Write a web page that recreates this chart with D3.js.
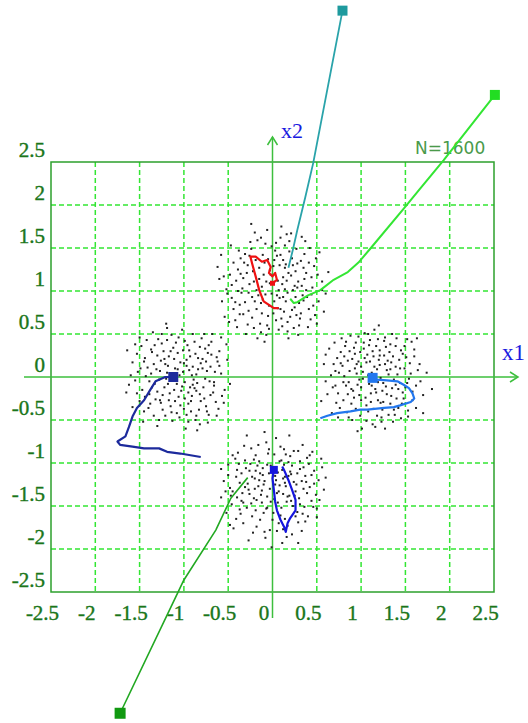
<!DOCTYPE html>
<html lang="en">
<head>
  <meta charset="utf-8">
  <title>Clusters N=1600</title>
  <script src="https://d3js.org/d3.v7.min.js"></script>
  <style>
    body { margin: 0; background: #fff; }
  </style>
</head>
<body>
<script>
// grid / tick values
var tickValues = [-2.5, -2, -1.5, -1, -0.5, 0, 0.5, 1, 1.5, 2, 2.5];
var nLabel = "N=1600";

// sample points (a subset of the 1600)
var clusterTop = [[-0.12,1.05],[0.08,0.92],[0.21,1.18],[-0.31,0.87],[0.05,1.41],[-0.22,1.23],[0.34,0.95],[-0.05,0.71],[0.17,0.64],[-0.41,1.12],[0.28,1.32],[-0.08,1.55],[0.11,1.08],[-0.18,0.79],[0.45,1.04],[-0.36,1.38],[0.02,0.88],[0.25,0.81],[-0.27,0.98],[0.14,1.27],[-0.02,1.19],[0.38,1.21],[-0.46,0.92],[0.07,0.55],[-0.14,0.62],[0.31,0.68],[-0.09,1.33],[0.19,1.46],[-0.24,1.49],[0.52,0.88],[-0.52,1.02],[0.09,1.62],[-0.16,0.95],[0.23,1.01],[-0.33,0.73],[0.41,0.79],[-0.04,0.83],[0.13,0.76],[-0.21,1.11],[0.29,1.11],[-0.11,1.42],[0.36,1.43],[-0.39,1.25],[0.01,1.29],[0.17,0.98],[-0.28,0.61],[0.47,1.29],[-0.07,0.49],[0.24,0.57],[-0.44,0.79],[0.06,1.12],[-0.19,1.36],[0.33,1.06],[-0.01,0.97],[0.12,1.36],[-0.26,1.08],[0.43,0.67],[-0.35,0.98],[0.18,1.21],[-0.13,0.86],[0.04,0.66],[0.27,1.49],[-0.48,1.19],[0.56,1.11],[-0.06,1.71],[0.15,0.88],[-0.23,0.69],[0.39,0.93],[-0.17,1.59],[0.22,1.38],[-0.38,1.47],[0.09,0.79],[-0.29,1.21],[0.32,0.74],[-0.03,1.09],[0.49,1.38],[-0.57,0.88],[0.14,1.53],[-0.1,1.19],[0.26,0.93],[-0.42,0.66],[0.03,1.47],[0.2,0.7],[-0.15,1.27],[0.35,1.27],[-0.32,1.33],[0.11,0.59],[-0.2,0.88],[0.44,0.96],[-0.05,1.37],[0.3,0.86],[-0.25,1.57],[0.16,1.12],[-0.37,0.84],[0.06,0.8],[0.58,0.76],[-0.6,1.14],[0.1,1.75],[-0.13,0.52],[0.37,1.58],
  [-0.47,1.53],[0.51,1.19],[-0.3,0.5],[0.21,1.67],[-0.54,0.7],[0.4,0.58],[-0.09,0.41],[0.18,0.45],[-0.2,1.68],[0.33,1.63],[0.6,0.97],[-0.62,1.28],[0.07,1.01],[-0.34,1.03],[0.26,1.23],[-0.15,1.14],[0.12,0.93],[-0.06,0.6],[0.46,0.83],[-0.4,0.58],[0.29,0.49],[-0.26,1.41],[0.04,1.56],[0.15,1.31],[-0.44,1.33],[0.53,1.45],[-0.12,0.74],[0.22,0.78],[-0.51,0.97],[0.36,1.14],[-0.03,1.24],[0.09,1.42],[-0.23,0.93],[0.41,1.33],[-0.33,1.15],[0.17,0.53],[-0.17,0.45],[0.63,1.22],[-0.58,1.42],[0.01,0.74],[0.25,1.06],[-0.08,0.96],[0.32,1.35],[-0.37,0.73],[0.12,1.16],[-0.28,1.3],[0.48,0.72],[-0.46,1.07],[0.05,0.95],[0.19,1.58],[-0.13,1.62],[0.38,1.01],[-0.21,0.57],[0.27,0.72],[-0.55,1.17],[0.1,0.68],[-0.01,1.52],[0.44,1.16],[-0.31,1.43],[0.14,1.02],[-0.18,1.01],[0.3,0.6],[-0.42,0.87],[0.56,1.01],[-0.04,0.56],[0.23,1.3],[-0.36,1.2],[0.08,1.3],[-0.11,0.9],[0.35,0.89],[-0.27,0.77],[0.02,1.36],[0.5,0.62],[-0.49,0.64],[0.16,1.66],[-0.24,1.78],[0.42,1.5],[-0.07,1.11],[0.28,1.04],[-0.39,1.0]];
var clusterLeft = [[-1.05,0.02],[-0.88,-0.13],[-1.21,0.15],[-0.79,0.21],[-1.33,-0.08],[-0.95,-0.31],[-1.12,0.34],[-0.71,-0.05],[-1.27,-0.27],[-0.84,0.09],[-1.41,0.11],[-0.99,0.42],[-1.16,-0.19],[-0.62,0.18],[-1.36,0.29],[-0.91,-0.22],[-1.08,-0.42],[-0.75,-0.34],[-1.47,-0.15],[-0.82,0.35],[-1.19,0.05],[-0.97,0.13],[-1.29,0.44],[-0.67,-0.18],[-1.52,0.06],[-0.86,-0.45],[-1.02,-0.11],[-1.24,-0.38],[-0.73,0.28],[-1.38,-0.31],[-0.93,0.24],[-1.14,0.49],[-0.58,0.04],[-1.44,0.22],[-0.89,-0.03],[-1.1,-0.28],[-0.77,-0.25],[-1.31,0.09],[-1.01,0.31],[-0.69,0.41],[-1.22,-0.12],[-0.95,-0.52],[-1.55,-0.04],[-0.81,0.16],[-1.17,0.24],[-0.64,-0.29],[-1.34,-0.45],[-0.9,0.5],[-1.06,-0.23],[-0.74,0.07],[-1.48,0.36],[-0.86,-0.16],[-1.26,0.19],[-0.99,-0.06],[-1.13,-0.51],[-0.6,0.3],[-1.39,-0.2],[-0.83,-0.38],[-1.04,0.17],[-1.2,-0.02],[-0.72,-0.44],[-1.58,0.17],[-0.94,0.08],[-1.09,0.4],[-0.66,-0.1],[-1.3,-0.17],[-0.87,0.27],[-1.15,-0.34],[-0.78,-0.12],[-1.43,0.01],[-0.96,0.37],[-1.23,0.3],[-0.54,-0.15],[-1.35,0.52],[-0.92,-0.28],[-1.07,0.09],[-0.8,0.45],[-1.5,-0.28],[-0.7,0.12],[-1.18,-0.08],[-1.0,-0.37],[-0.85,-0.07],[-1.28,-0.5],[-0.63,0.23],[-1.11,0.21],[-1.45,-0.4],[-0.76,0.33],[-1.03,-0.16],[-1.25,0.39],[-0.91,0.02],[-1.62,-0.09],[-0.57,-0.22],[-1.19,0.57],[-0.98,-0.6],[-1.37,0.04],[-0.82,-0.55],[-1.53,0.27],[-0.68,0.5],
  [-1.64,0.31],[-0.52,0.38],[-1.2,0.62],[-0.85,-0.62],[-1.46,-0.52],[-0.48,-0.08],[-1.1,0.1],[-0.93,-0.12],[-1.27,0.07],[-0.76,-0.02],[-1.33,0.37],[-0.61,-0.37],[-1.05,-0.47],[-1.42,0.43],[-0.88,0.41],[-1.17,-0.27],[-0.69,0.26],[-1.53,-0.19],[-0.97,0.2],[-1.24,-0.21],[-0.81,-0.28],[-1.36,-0.12],[-0.58,0.46],[-1.13,0.03],[-0.9,0.12],[-1.49,0.1],[-0.73,-0.53],[-1.3,0.25],[-1.02,0.55],[-0.65,0.06],[-1.21,-0.45],[-0.95,-0.18],[-1.58,-0.35],[-0.84,0.22],[-1.08,-0.08],[-1.39,-0.05],[-0.77,0.5],[-1.15,0.3],[-0.55,-0.3],[-1.45,0.18],[-0.92,-0.4],[-1.26,-0.3],[-0.7,-0.21],[-1.01,0.06],[-1.34,0.15],[-0.86,0.03],[-1.6,0.02],[-0.63,-0.45],[-1.19,0.43],[-0.99,-0.25],[-1.4,-0.36],[-0.79,0.1],[-1.07,0.28],[-1.28,-0.03],[-0.6,0.13],[-1.5,0.46],[-0.94,0.31],[-1.14,-0.41],[-0.72,0.37],[-1.32,-0.26],[-0.87,-0.5],[-1.22,0.21],[-1.0,0.16],[-0.66,-0.06],[-1.44,-0.23],[-0.82,-0.2],[-1.11,-0.15],[-1.37,0.32],[-0.75,0.18],[-1.04,-0.33],[-1.25,0.5],[-0.51,0.2],[-1.55,0.38],[-0.9,-0.09],[-1.18,0.13],[-0.97,-0.44],[-1.65,-0.18],[-0.74,-0.4],[-1.06,0.46],[-1.3,-0.57]];
var clusterRight = [[1.12,0.05],[1.28,-0.11],[0.97,0.18],[1.39,0.12],[1.05,-0.24],[1.21,0.31],[0.86,-0.06],[1.47,-0.18],[1.14,-0.37],[0.93,0.27],[1.33,0.38],[1.02,-0.02],[1.56,0.04],[0.79,0.13],[1.25,-0.29],[1.1,0.43],[0.89,-0.31],[1.42,-0.36],[1.18,0.09],[0.74,-0.19],[1.51,0.23],[0.99,-0.45],[1.3,0.19],[1.07,0.26],[0.82,0.36],[1.62,-0.1],[1.16,-0.14],[0.95,0.04],[1.37,-0.03],[1.23,-0.47],[0.71,0.07],[1.45,0.31],[1.04,0.51],[0.91,-0.16],[1.34,-0.22],[1.2,0.2],[0.84,-0.41],[1.58,-0.27],[1.09,-0.08],[0.77,0.29],[1.27,0.46],[1.0,0.12],[1.49,0.1],[0.68,-0.12],[1.13,-0.55],[1.38,-0.44],[0.94,0.4],[1.22,-0.01],[0.87,0.07],[1.66,0.15],[1.06,-0.33],[1.31,0.03],[0.8,-0.27],[1.44,-0.07],[1.17,0.36],[0.98,-0.21],[1.53,-0.39],[1.26,0.25],[0.73,0.22],[1.11,-0.19],[1.4,0.45],[0.9,-0.5],[1.19,-0.27],[0.66,0.02],[1.6,0.32],[1.03,0.33],[1.35,-0.13],[0.85,0.19],[1.24,-0.38],[1.08,0.02],[0.96,-0.09],[1.48,-0.25],[1.15,0.55],[0.76,-0.36],[1.29,0.08],[1.01,-0.6],[1.43,0.2],[0.6,-0.05],[1.21,0.14],[0.88,0.48],[1.36,-0.52],[1.7,-0.21],[1.14,0.24],[0.92,-0.24],[1.32,0.29],[0.7,0.4],[1.54,-0.02],[1.06,0.17],[1.25,-0.07],[0.83,-0.1],[1.45,-0.48],[1.18,-0.45],[0.58,0.15],[1.64,0.08],[0.99,0.29],[1.39,0.36],[1.27,-0.6],[0.81,0.01],[1.09,0.37],[1.52,0.44],[1.7,-0.42],
  [1.74,0.05],[0.55,-0.28],[1.2,0.6],[0.96,-0.63],[1.57,0.41],[0.64,0.33],[1.33,-0.31],[1.0,-0.12],[1.41,0.03],[0.85,-0.2],[1.27,0.15],[1.11,-0.29],[0.78,0.45],[1.5,-0.12],[0.93,0.1],[1.19,-0.06],[1.36,0.24],[0.72,-0.3],[1.62,-0.36],[1.04,0.22],[1.23,-0.52],[0.87,0.3],[1.46,-0.31],[1.15,0.12],[0.69,0.15],[1.31,-0.44],[0.97,0.47],[1.55,0.16],[1.08,-0.4],[0.8,-0.06],[1.28,0.35],[1.42,-0.14],[0.9,0.21],[1.17,-0.18],[0.62,-0.2],[1.67,-0.05],[1.02,0.06],[1.35,0.5],[0.83,0.41],[1.24,-0.16],[1.49,0.36],[0.94,-0.37],[1.13,0.3],[0.75,0.05],[1.4,-0.25],[1.06,-0.51],[1.6,0.24],[0.89,-0.14],[1.21,0.25],[1.33,0.09],[0.67,-0.42],[1.52,-0.07],[1.1,0.18],[0.98,-0.03],[1.26,0.42],[0.81,0.24],[1.44,0.1],[1.16,-0.58],[0.71,-0.1],[1.37,-0.38],[1.03,0.4],[1.58,-0.17],[0.92,0.34],[1.29,-0.2],[1.12,-0.1],[0.86,-0.47],[1.47,0.27],[0.77,0.16],[1.19,0.44],[1.39,-0.09],[1.0,-0.27],[1.63,0.45],[0.6,0.26],[1.22,-0.3],[0.95,0.15],[1.34,0.17],[1.08,0.5],[1.53,-0.46],[0.74,-0.47],[1.8,-0.14]];
var clusterBottom = [[0.03,-1.25],[-0.14,-1.12],[0.19,-1.38],[-0.27,-1.31],[0.08,-0.98],[-0.06,-1.52],[0.31,-1.07],[-0.35,-1.44],[0.14,-1.65],[-0.19,-0.91],[0.42,-1.28],[-0.09,-1.21],[0.24,-0.86],[-0.41,-1.16],[0.05,-1.79],[-0.23,-1.62],[0.36,-1.51],[-0.02,-1.03],[0.12,-1.18],[-0.31,-0.97],[0.47,-1.09],[-0.13,-1.37],[0.21,-1.13],[-0.45,-1.33],[0.09,-0.81],[-0.18,-1.74],[0.29,-1.69],[-0.05,-0.89],[0.16,-1.45],[-0.37,-1.23],[0.39,-0.94],[-0.1,-1.58],[0.02,-1.42],[-0.26,-1.09],[0.33,-1.21],[-0.5,-1.02],[0.11,-1.93],[-0.16,-1.27],[0.26,-1.33],[-0.29,-1.52],[0.06,-1.11],[0.44,-1.44],[-0.07,-0.76],[0.18,-0.99],[-0.39,-0.88],[0.52,-1.2],[-0.21,-1.41],[0.0,-1.66],[0.28,-1.57],[-0.33,-1.7],[0.13,-1.02],[-0.11,-1.14],[0.37,-1.15],[-0.46,-1.48],[0.07,-1.33],[-0.24,-0.83],[0.22,-1.83],[-0.03,-1.3],[0.34,-0.79],[-0.17,-1.03],[0.49,-1.37],[-0.55,-1.21],[0.1,-1.52],[-0.08,-1.87],[0.27,-1.25],[-0.34,-1.35],[0.15,-0.9],[-0.2,-1.18],[0.4,-1.62],[-0.42,-0.95],[0.04,-0.71],[-0.12,-1.46],[0.3,-1.41],[-0.28,-1.24],[0.2,-1.1],[-0.01,-1.98],[0.45,-0.87],[-0.36,-1.59],[0.08,-1.26],[-0.15,-0.98],[0.56,-1.05],[-0.48,-1.29],[0.17,-1.73],[-0.25,-1.01],[0.35,-1.3],[-0.04,-1.12],[0.23,-1.5],[-0.32,-0.8],[0.12,-1.36],[-0.19,-1.55],[0.41,-1.01],[-0.09,-0.64],[0.01,-1.58],[-0.58,-1.4],[0.29,-1.93],[-0.22,-1.81],[0.5,-1.53],[-0.4,-1.08],[0.14,-1.16],[-0.06,-1.39],
  [-0.52,-1.58],[0.58,-1.31],[0.19,-0.68],[-0.29,-0.68],[0.33,-1.79],[-0.44,-1.76],[0.06,-1.46],[-0.14,-1.66],[0.24,-1.22],[-0.06,-1.02],[0.15,-1.27],[-0.35,-1.12],[0.44,-1.14],[-0.2,-1.3],[0.09,-1.61],[0.31,-0.98],[-0.24,-1.47],[0.02,-0.9],[-0.47,-1.38],[0.37,-1.68],[-0.1,-1.25],[0.21,-1.44],[-0.38,-1.01],[0.53,-1.43],[-0.03,-1.78],[0.13,-0.84],[-0.27,-1.9],[0.28,-1.12],[-0.16,-0.79],[0.47,-1.24],[-0.07,-1.53],[0.17,-1.39],[-0.31,-1.28],[0.04,-1.2],[0.39,-1.35],[-0.5,-1.14],[0.11,-1.08],[-0.19,-1.09],[0.26,-1.62],[-0.41,-1.65],[0.0,-1.07],[0.35,-1.05],[-0.12,-1.32],[0.2,-0.92],[-0.33,-1.46],[0.6,-1.17],[-0.58,-1.07],[0.07,-1.7],[-0.23,-1.16],[0.42,-0.91],[-0.02,-1.45],[0.16,-1.86],[-0.37,-1.54],[0.31,-1.48],[-0.15,-1.2],[0.1,-0.97],[-0.45,-0.91],[0.25,-1.38],[-0.09,-1.8],[0.5,-1.63],[-0.26,-1.36],[0.14,-1.23],[-0.04,-0.84],[0.38,-1.22],[-0.53,-1.33],[0.05,-1.35],[-0.18,-1.43],[0.29,-0.86],[-0.3,-1.06],[0.46,-1.51],[0.12,-1.77],[-0.21,-0.96],[0.22,-1.03],[-0.4,-1.4],[0.03,-1.15],[0.34,-1.59],[-0.11,-1.06],[0.55,-0.95],[-0.48,-1.72],[0.18,-1.15]];

// trajectories of the four centres (first point = start marker)
var pathCyan = [[0.79,4.26],[0.62,3.35],[0.46,2.49],[0.37,2.09],[0.28,1.71],[0.23,1.48],[0.18,1.27]];
var pathGreenTop = [[2.51,3.28],[1.93,2.52],[1.65,2.17],[1.50,1.98],[1.11,1.50],[0.97,1.33],[0.85,1.22],[0.69,1.13],[0.54,1.01],[0.40,0.95],[0.28,0.87],[0.24,0.86],[0.20,0.91]];
var pathGreenBottom = [[-1.72,-3.91],[-1.07,-2.51],[-1.00,-2.36],[-0.64,-1.78],[-0.47,-1.41],[-0.28,-1.17]];
var pathRed = [[0.07,0.80],[0.015,0.80],[-0.10,0.88],[-0.15,1.01],[-0.19,1.17],[-0.23,1.32],[-0.25,1.40],[-0.19,1.40],[-0.12,1.34],[-0.06,1.36],[-0.02,1.28],[-0.04,1.21],[0.00,1.17],[0.03,1.21],[0.05,1.13],[0.00,1.09]];
var pathNavy = [[-0.81,-0.93],[-1.04,-0.89],[-1.19,-0.87],[-1.28,-0.83],[-1.45,-0.83],[-1.58,-0.81],[-1.72,-0.79],[-1.75,-0.75],[-1.66,-0.69],[-1.62,-0.58],[-1.58,-0.46],[-1.53,-0.36],[-1.45,-0.27],[-1.38,-0.15],[-1.32,-0.05],[-1.21,0.00],[-1.12,0.0]];
var pathLightBlue = [[0.54,-0.48],[0.62,-0.45],[0.73,-0.42],[0.88,-0.40],[0.99,-0.38],[1.07,-0.38],[1.26,-0.36],[1.37,-0.35],[1.44,-0.33],[1.56,-0.29],[1.60,-0.25],[1.58,-0.19],[1.54,-0.13],[1.48,-0.09],[1.41,-0.05],[1.29,-0.04],[1.18,-0.03],[1.13,-0.01]];
var pathBlue = [[0.11,-1.04],[0.13,-1.08],[0.18,-1.20],[0.22,-1.31],[0.26,-1.43],[0.26,-1.55],[0.20,-1.64],[0.17,-1.70],[0.15,-1.80],[0.13,-1.74],[0.09,-1.66],[0.05,-1.55],[0.03,-1.45],[0.015,-1.31],[0.00,-1.18],[0.015,-1.08]];

var W = 528, H = 723;
var x = d3.scaleLinear().domain([-2.5, 2.5]).range([51, 494]);
var y = d3.scaleLinear().domain([-2.5, 2.5]).range([592, 162]);

var svg = d3.select('body').append('svg')
  .attr('width', W)
  .attr('height', H);

// dashed grid
var inner = tickValues.filter(function(v) { return v !== 0 && Math.abs(v) !== 2.5; });
svg.selectAll('line.gx').data(inner).enter().append('line')
  .attr('x1', function(d) { return x(d); }).attr('x2', function(d) { return x(d); })
  .attr('y1', y(2.5)).attr('y2', y(-2.5))
  .attr('stroke', '#33e633').attr('stroke-width', 1.5).attr('stroke-dasharray', '5,3');
svg.selectAll('line.gy').data(inner).enter().append('line')
  .attr('y1', function(d) { return y(d); }).attr('y2', function(d) { return y(d); })
  .attr('x1', x(-2.5)).attr('x2', x(2.5))
  .attr('stroke', '#33e633').attr('stroke-width', 1.5).attr('stroke-dasharray', '5,3');

// frame
svg.append('rect')
  .attr('x', x(-2.5)).attr('y', y(2.5))
  .attr('width', x(2.5) - x(-2.5)).attr('height', y(-2.5) - y(2.5))
  .attr('fill', 'none').attr('stroke', '#2ca02c').attr('stroke-width', 1.5);

// axes through origin
var axisColor = '#3dbf3d';
svg.append('line').attr('x1', 24).attr('x2', 518).attr('y1', y(0)).attr('y2', y(0))
  .attr('stroke', axisColor).attr('stroke-width', 1.5);
svg.append('line').attr('x1', x(0)).attr('x2', x(0)).attr('y1', 137).attr('y2', 618)
  .attr('stroke', axisColor).attr('stroke-width', 1.5);
svg.append('path').attr('d', 'M510,' + (y(0) - 5) + 'L518,' + y(0) + 'L510,' + (y(0) + 5))
  .attr('fill', 'none').attr('stroke', axisColor).attr('stroke-width', 1.5);
svg.append('path').attr('d', 'M' + (x(0) - 5) + ',145L' + x(0) + ',137L' + (x(0) + 5) + ',145')
  .attr('fill', 'none').attr('stroke', axisColor).attr('stroke-width', 1.5);

// tick labels
var labelColor = '#1a761a';
svg.selectAll('text.tx').data(tickValues).enter().append('text')
  .attr('x', function(d) { return x(d) - 8.5; })
  .attr('y', 620)
  .attr('text-anchor', 'middle')
  .attr('font-family', '"Liberation Serif", "Times New Roman", serif')
  .attr('font-size', 21)
  .attr('fill', labelColor).attr('stroke', labelColor).attr('stroke-width', 0.4)
  .text(function(d) { return String(d); });
svg.selectAll('text.ty').data(tickValues).enter().append('text')
  .attr('x', 45)
  .attr('y', function(d) { return y(d) - 5; })
  .attr('text-anchor', 'end')
  .attr('font-family', '"Liberation Serif", "Times New Roman", serif')
  .attr('font-size', 21)
  .attr('fill', labelColor).attr('stroke', labelColor).attr('stroke-width', 0.4)
  .text(function(d) { return String(d); });

// axis names and N
svg.append('text').attr('x', 281).attr('y', 138)
  .attr('font-family', '"Liberation Serif", serif').attr('font-size', 22)
  .attr('fill', '#1a1ae0').text('x2');
svg.append('text').attr('x', 502).attr('y', 360)
  .attr('font-family', '"Liberation Serif", serif').attr('font-size', 23)
  .attr('fill', '#1a1ae0').text('x1');
svg.append('text').attr('x', 415).attr('y', 154)
  .attr('font-family', '"DejaVu Sans", sans-serif').attr('font-size', 17)
  .attr('fill', '#4a9a4a').text(nLabel);

// data points
var allPts = clusterTop.concat(clusterLeft, clusterRight, clusterBottom);
svg.selectAll('rect.pt').data(allPts).enter().append('rect')
  .attr('x', function(d) { return x(d[0]) - 1; })
  .attr('y', function(d) { return y(d[1]) - 1; })
  .attr('width', 2).attr('height', 2)
  .attr('fill', '#222');

// trajectories
var line = d3.line().x(function(d) { return x(d[0]); }).y(function(d) { return y(d[1]); });
function trail(pts, color, width) {
  svg.append('path').attr('d', line(pts))
    .attr('fill', 'none').attr('stroke', color).attr('stroke-width', width)
    .attr('stroke-linejoin', 'round');
}
function marker(p, color, size) {
  svg.append('rect')
    .attr('x', x(p[0]) - size / 2).attr('y', y(p[1]) - size / 2)
    .attr('width', size).attr('height', size)
    .attr('fill', color);
}
trail(pathCyan, '#2aa3aa', 1.8);
trail(pathGreenTop, '#33e633', 2);
trail(pathGreenBottom, '#22a822', 1.6);
trail(pathRed, '#ee1111', 2.2);
trail(pathNavy, '#1c2a9c', 2.2);
trail(pathLightBlue, '#2277ee', 2.2);
trail(pathBlue, '#1515dd', 2.2);

marker(pathCyan[0], '#1e9a9e', 10);
marker(pathGreenTop[0], '#22dd22', 10);
marker(pathGreenBottom[0], '#119911', 11);
marker(pathNavy[pathNavy.length - 1], '#1c2a9c', 10);
marker(pathLightBlue[pathLightBlue.length - 1], '#2277ee', 10);
marker(pathBlue[pathBlue.length - 1], '#1515dd', 8);
marker(pathRed[pathRed.length - 1], '#ee1111', 5);
</script>
</body>
</html>
